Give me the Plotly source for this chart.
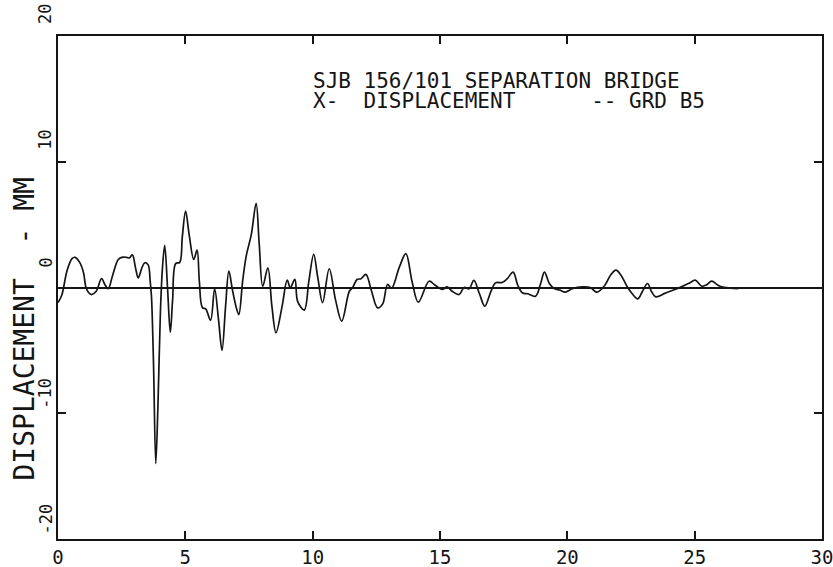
import plotly.graph_objects as go

# ---- data (time in s, displacement in mm) ----
time_s = [0.0, 0.15, 0.35, 0.55, 0.67, 0.85, 1.0, 1.1, 1.2, 1.32, 1.5, 1.71, 1.85, 1.97,
          2.15, 2.36, 2.5, 2.69, 2.8, 2.92, 3.05, 3.15, 3.3, 3.41, 3.54, 3.62, 3.67, 3.75,
          3.84, 3.93, 4.02, 4.1, 4.19, 4.3, 4.41, 4.5, 4.62, 4.78, 4.88, 5.01, 5.15, 5.33,
          5.46, 5.55, 5.67, 5.8, 5.99, 6.15, 6.3, 6.44, 6.58, 6.71, 6.85, 7.0, 7.1, 7.25,
          7.39, 7.59, 7.78, 7.9, 8.04, 8.24, 8.4, 8.56, 8.8, 9.0, 9.12, 9.3, 9.41, 9.67,
          9.85, 10.04, 10.2, 10.39, 10.65, 10.9, 11.14, 11.44, 11.57, 11.74, 11.9, 12.09,
          12.3, 12.55, 12.75, 12.94, 13.1, 13.4, 13.66, 13.9, 14.15, 14.57, 14.8, 15.09,
          15.28, 15.48, 15.75, 15.95, 16.14, 16.33, 16.55, 16.76, 17.0, 17.18, 17.44,
          17.64, 17.87, 18.05, 18.23, 18.45, 18.75, 18.95, 19.1, 19.3, 19.5, 19.7, 19.92,
          20.19, 20.6, 20.9, 21.16, 21.48, 21.7, 21.91, 22.1, 22.34, 22.55, 22.77, 22.95,
          23.15, 23.3, 23.47, 23.85, 24.17, 24.5, 24.8, 25.02, 25.28, 25.45, 25.67, 25.9,
          26.06, 26.4, 26.71]
disp_mm = [-1.2, -0.6, 1.3, 2.3, 2.4, 2.0, 1.2, 0.0, -0.4, -0.56, -0.3, 0.7, 0.2, -0.1,
           1.0, 2.2, 2.4, 2.4, 2.35, 2.6, 1.5, 0.77, 1.6, 1.97, 1.8, 0.5, -0.7, -6.0,
           -14.0, -9.0, -2.0, 1.5, 3.35, 0.0, -3.56, -1.0, 1.9, 2.0, 4.0, 6.08, 4.2, 2.23,
           2.97, 0.5, -1.6, -1.7, -2.6, -0.1, -2.5, -5.0, -1.5, 1.3, -0.2, -1.6, -2.15, 0.5,
           2.5, 4.2, 6.7, 3.5, 0.1, 1.57, -1.5, -3.6, -1.5, 0.58, 0.0, 0.64, -1.1, -1.8,
           0.5, 2.63, 0.8, -1.2, 1.49, -1.0, -2.68, -0.3, 0.0, 0.64, 0.7, 1.04,
           -0.2, -1.62, -1.3, 0.24, -0.05, 1.6, 2.7, 0.5, -1.17, 0.5, 0.2, -0.16,
           0.05, -0.3, -0.56, 0.0, -0.1, 0.56, -0.5, -1.49, -0.3, 0.37, 0.4,
           0.7, 1.22, 0.2, -0.42, -0.5, -0.69, 0.3, 1.22, 0.3, -0.1, -0.2, -0.37,
           -0.1, 0.05, 0.0, -0.37, 0.2, 1.0, 1.38, 1.0, 0.1, -0.5, -0.9, -0.3,
           0.32, -0.3, -0.74, -0.45, -0.2, 0.07, 0.35, 0.58, 0.1, 0.2, 0.5, 0.2,
           0.05, -0.05, -0.1]

x_ticks = [0, 5, 10, 15, 20, 25, 30]
y_ticks = [-20, -10, 0, 10, 20]
y_tick_labels = ["-20", "-10", "0", "10", "20"]

title_line1 = "SJB 156/101 SEPARATION BRIDGE"
title_line2 = "X-  DISPLACEMENT      -- GRD B5"
y_title = "DISPLACEMENT  - MM"
page_number = "38"

# ---- layout geometry (pixels) ----
W, H = 833, 567
L, R, T, B = 58, 11, 36, 28
plot_w = W - L - R
plot_h = H - T - B
INK = "#151515"
FONT = "DejaVu Sans Mono"


def px_x(px):
    return (px - L) / plot_w


def px_y(py):
    return (H - B - py) / plot_h


def nb(s):
    return s.replace(" ", "\u00a0")


fig = go.Figure()
fig.add_trace(go.Scatter(
    x=time_s, y=disp_mm, mode="lines",
    line=dict(color=INK, width=1.7, shape="spline", smoothing=1.0),
    hoverinfo="skip", showlegend=False,
))

annotations = []
# y tick labels, rotated, placed just above each tick (right-aligned 3-char field)
for val, lab in zip(y_ticks, y_tick_labels):
    annotations.append(dict(
        x=0, xref="paper", y=val, yref="y", xshift=-13,
        xanchor="center", yanchor="bottom", yshift=2 + (3 - len(lab)) * 8,
        text=lab, textangle=-90, showarrow=False,
        font=dict(family=FONT, size=17, color=INK),
    ))
# y axis title
annotations.append(dict(
    x=px_x(24), xref="paper", y=px_y(483), yref="paper",
    xanchor="center", yanchor="bottom", text=nb(y_title), textangle=-90,
    showarrow=False, font=dict(family=FONT, size=28, color=INK),
))
# header text inside plot
annotations.append(dict(
    x=px_x(311), xref="paper", y=px_y(81), yref="paper",
    xanchor="left", yanchor="middle", text=nb(title_line1), showarrow=False,
    font=dict(family=FONT, size=21, color=INK),
))
annotations.append(dict(
    x=px_x(311), xref="paper", y=px_y(101), yref="paper",
    xanchor="left", yanchor="middle", text=nb(title_line2), showarrow=False,
    font=dict(family=FONT, size=21, color=INK),
))
# page number cut off at the top of the scan
annotations.append(dict(
    x=px_x(403), xref="paper", y=px_y(5), yref="paper",
    xanchor="center", yanchor="bottom", text=page_number, showarrow=False,
    font=dict(family=FONT, size=20, color=INK),
))

fig.update_layout(
    width=W, height=H,
    margin=dict(l=L, r=R, t=T, b=B, pad=0, autoexpand=False),
    paper_bgcolor="white", plot_bgcolor="white",
    showlegend=False,
    annotations=annotations,
    xaxis=dict(
        range=[0, 30], tickvals=x_ticks, ticktext=[str(v) for v in x_ticks],
        ticks="inside", ticklen=8, tickwidth=1.5, tickcolor=INK,
        showline=True, linewidth=2, linecolor=INK, mirror="ticks",
        showgrid=False, zeroline=False, automargin=False,
        ticklabeloverflow="allow",
        tickfont=dict(family=FONT, size=19, color=INK),
        fixedrange=True,
    ),
    yaxis=dict(
        range=[-20, 20], tickvals=y_ticks,
        ticks="inside", ticklen=8, tickwidth=1.5, tickcolor=INK,
        showline=True, linewidth=2, linecolor=INK, mirror="ticks",
        showgrid=False, showticklabels=False, automargin=False,
        zeroline=True, zerolinecolor=INK, zerolinewidth=1.6,
        fixedrange=True,
    ),
)

fig.write_html("out.html")
